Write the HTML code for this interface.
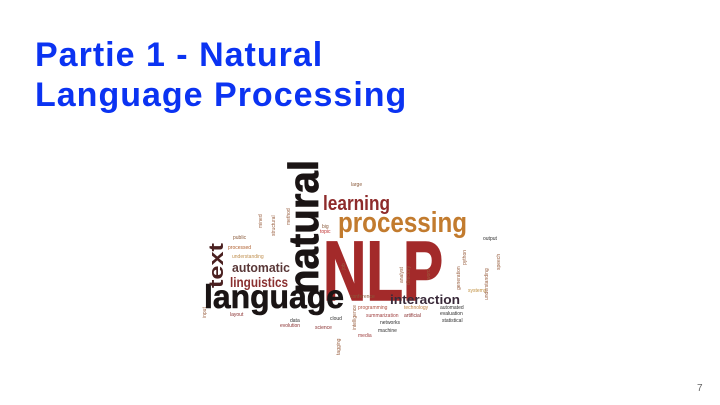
<!DOCTYPE html>
<html><head><meta charset="utf-8">
<style>
body{margin:0;width:720px;height:405px;background:#fff;overflow:hidden;position:relative;font-family:"Liberation Sans",Arial,sans-serif}
.t{position:absolute;left:35px;font-weight:bold;font-size:34px;line-height:34px;letter-spacing:1px;color:#0b33f2;white-space:nowrap}
</style></head><body>
<div class="t" style="top:38px">Partie 1 - Natural</div>
<div class="t" style="top:78px">Language Processing</div>
<svg width="720" height="405" style="position:absolute;left:0;top:0" font-family="Liberation Sans, Arial, sans-serif" font-weight="bold">
<text x="318" y="294" transform="rotate(-90 318 294)" font-size="42" fill="#1a1414" stroke="#1a1414" stroke-width="0.8" textLength="134" lengthAdjust="spacingAndGlyphs">natural</text>
<text x="323" y="210" font-size="20" fill="#8e2b2b" textLength="67" lengthAdjust="spacingAndGlyphs">learning</text>
<text x="338" y="232" font-size="29" fill="#c27b2e" textLength="129" lengthAdjust="spacingAndGlyphs">processing</text>
<text x="323" y="300" font-size="84" fill="#a32a2a" stroke="#a32a2a" stroke-width="1.5" textLength="120" lengthAdjust="spacingAndGlyphs">NLP</text>
<text x="204" y="308" font-size="33" fill="#1a1414" stroke="#1a1414" stroke-width="0.6" textLength="140" lengthAdjust="spacingAndGlyphs">language</text>
<text x="223" y="288" transform="rotate(-90 223 288)" font-size="20" fill="#4a2020" textLength="45" lengthAdjust="spacingAndGlyphs">text</text>
<text x="232" y="272" font-size="13" fill="#5a3838" textLength="58" lengthAdjust="spacingAndGlyphs">automatic</text>
<text x="230" y="287" font-size="14" fill="#8a3030" textLength="58" lengthAdjust="spacingAndGlyphs">linguistics</text>
<text x="390" y="304" font-size="13" fill="#3a2a3a" textLength="70" lengthAdjust="spacingAndGlyphs">interaction</text>
<g font-weight="normal" font-size="5" fill="#8a5a3a">
<text x="233" y="239">public</text>
<text x="228" y="249" fill="#b06030">processed</text>
<text x="232" y="258" fill="#c09050">understanding</text>
<text x="350" y="298">conference</text>
<text x="358" y="309" fill="#b05040">programming</text>
<text x="404" y="309" fill="#c08040">technology</text>
<text x="440" y="309" fill="#303030">automated</text>
<text x="366" y="317" fill="#a04040">summarization</text>
<text x="404" y="317" fill="#8a3030">artificial</text>
<text x="440" y="315" fill="#303030">evaluation</text>
<text x="442" y="322" fill="#303030">statistical</text>
<text x="380" y="324" fill="#303030">networks</text>
<text x="378" y="332" fill="#303030">machine</text>
<text x="358" y="337" fill="#a04040">media</text>
<text x="290" y="322" fill="#303030">data</text>
<text x="330" y="320" fill="#303030">cloud</text>
<text x="280" y="327" fill="#8a3030">evolution</text>
<text x="315" y="329" fill="#8a3030">science</text>
<text x="230" y="316" fill="#8a3030">layout</text>
<text x="322" y="228">big</text>
<text x="320" y="233" fill="#c03030">topic</text>
<text x="351" y="186">large</text>
<text x="483" y="240" fill="#303030">output</text>
<text x="468" y="292" fill="#c09040">systems</text>
</g>
<g font-weight="normal" font-size="5" fill="#9a6040">
<text x="275" y="236" transform="rotate(-90 275 236)">structural</text>
<text x="262" y="228" transform="rotate(-90 262 228)">mined</text>
<text x="290" y="225" transform="rotate(-90 290 225)">method</text>
<text x="345" y="270" transform="rotate(-90 345 270)">job</text>
<text x="403" y="283" transform="rotate(-90 403 283)">analyst</text>
<text x="410" y="285" transform="rotate(-90 410 285)">directory</text>
<text x="430" y="280" transform="rotate(-90 430 280)">word</text>
<text x="460" y="290" transform="rotate(-90 460 290)">generation</text>
<text x="466" y="265" transform="rotate(-90 466 265)">python</text>
<text x="488" y="300" transform="rotate(-90 488 300)">understanding</text>
<text x="500" y="270" transform="rotate(-90 500 270)">speech</text>
<text x="340" y="355" transform="rotate(-90 340 355)">tagging</text>
<text x="356" y="330" transform="rotate(-90 356 330)">intelligence</text>
<text x="206" y="318" transform="rotate(-90 206 318)">input</text>
</g>
</svg>
<div style="position:absolute;left:697px;top:383px;font-size:10px;color:#666">7</div>
</body></html>
